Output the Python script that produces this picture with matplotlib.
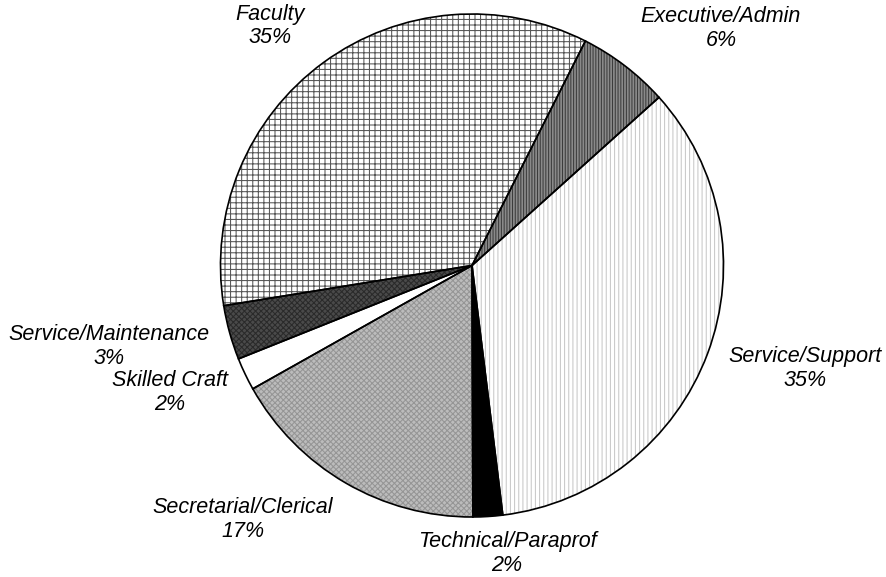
import matplotlib
matplotlib.use("Agg")
import matplotlib.pyplot as plt

# Staff composition by job category
categories = ["Executive/Admin", "Service/Support", "Technical/Paraprof",
              "Secretarial/Clerical", "Skilled Craft", "Service/Maintenance",
              "Faculty"]
shares = [5.9, 34.7, 1.9, 16.9, 2.1, 3.5, 35.0]
pct_labels = ["6%", "35%", "2%", "17%", "2%", "3%", "35%"]

# Fill style per wedge: face colour, hatch pattern, hatch colour
faces = ["#8a8a8a", "white", "black", "#bcbcbc", "white", "#4a4a4a", "white"]
hatches = ["||||||", "||||", "", "xxxxxx", "", "xxxxxx", "+++"]
hatch_cols = ["#3c3c3c", "#c8c8c8", "black", "#959595", "white", "#2a2a2a", "#555555"]

# Label anchor points (in pie-radius units from the centre)
label_xy = [(0.990, 0.942), (1.324, -0.410), (0.139, -1.145),
            (-0.911, -1.010), (-1.201, -0.505), (-1.443, -0.322),
            (-0.803, 0.952)]

plt.rcParams["hatch.linewidth"] = 0.75
plt.rcParams["font.family"] = ["Liberation Sans", "DejaVu Sans"]

fig = plt.figure(figsize=(8.86, 5.77), dpi=100)
ax = fig.add_axes([0, 0, 1, 1])

# Hatched fills (edge colour drives hatch colour)
wedges, _ = ax.pie(shares, startangle=63.2, counterclock=False, radius=1.0)
for w, fc, h, hc in zip(wedges, faces, hatches, hatch_cols):
    w.set_facecolor(fc)
    w.set_edgecolor(hc)
    w.set_hatch(h)
    w.set_linewidth(0)

# Black outlines on top
outline, _ = ax.pie(shares, startangle=63.2, counterclock=False, radius=1.0,
                    wedgeprops=dict(fill=False, edgecolor="black", linewidth=1.2))

for cat, pct, (lx, ly) in zip(categories, pct_labels, label_xy):
    ax.text(lx, ly, f"{cat}\n{pct}", ha="center", va="center",
            fontsize=15.5, style="italic", color="black", linespacing=1.15)

ax.set_xlim(-1.8767, 1.6461)
ax.set_ylim(-1.2386, 1.0557)
ax.set_aspect("auto")
ax.axis("off")

fig.savefig("out.png", dpi=100, facecolor="white")
